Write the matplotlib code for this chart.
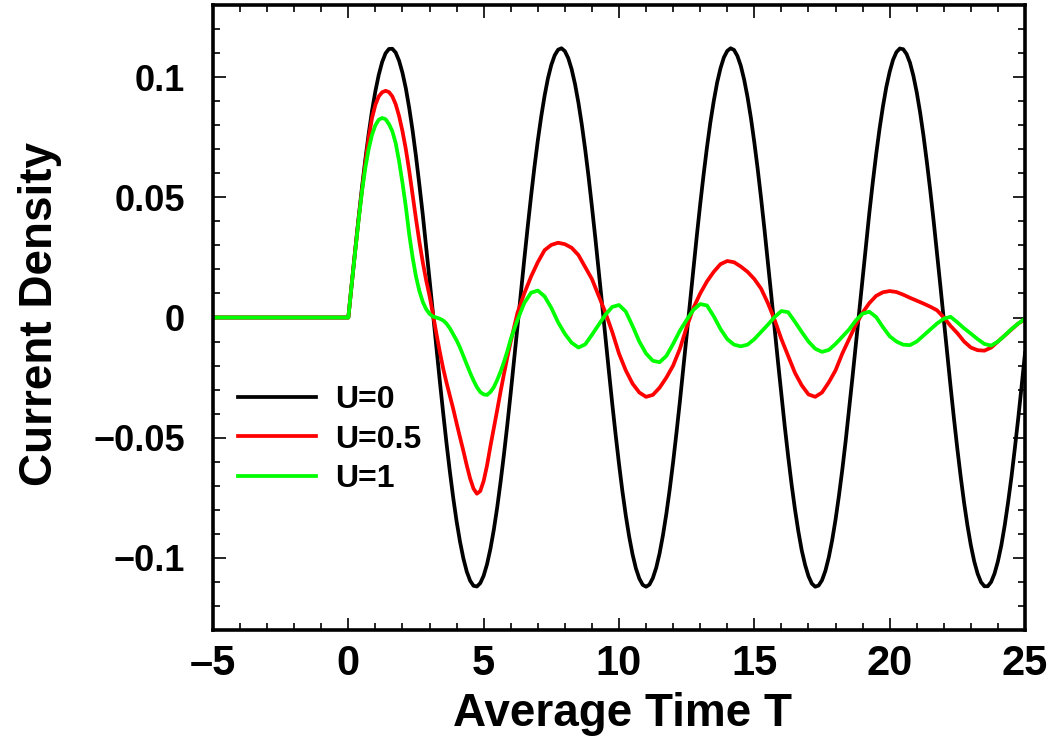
import matplotlib
matplotlib.use('Agg')
import matplotlib.pyplot as plt
from matplotlib.ticker import MultipleLocator, FuncFormatter
import numpy as np

# all curves are flat zero for T < 0
t_start = -5.0

# U=0 sampled every 0.125 from T=0 to T=25 (one row = one time unit)
t_u0 = np.arange(0, 25.001, 0.125)
current_u0 = [
    0.0000, 0.0140, 0.0277, 0.0410, 0.0537, 0.0655, 0.0763, 0.0860,
    0.0942, 0.1010, 0.1063, 0.1099, 0.1117, 0.1118, 0.1102, 0.1068,
    0.1018, 0.0953, 0.0871, 0.0777, 0.0670, 0.0552, 0.0428, 0.0295,
    0.0158, 0.0019, -0.0121, -0.0259, -0.0393, -0.0521, -0.0640, -0.0750,
    -0.0848, -0.0932, -0.1002, -0.1057, -0.1095, -0.1116, -0.1119, -0.1105,
    -0.1074, -0.1026, -0.0962, -0.0883, -0.0790, -0.0684, -0.0569, -0.0445,
    -0.0313, -0.0176, -0.0037, 0.0103, 0.0241, 0.0375, 0.0504, 0.0625,
    0.0736, 0.0835, 0.0922, 0.0995, 0.1051, 0.1091, 0.1114, 0.1120,
    0.1108, 0.1079, 0.1033, 0.0971, 0.0894, 0.0803, 0.0700, 0.0586,
    0.0461, 0.0331, 0.0195, 0.0056, -0.0084, -0.0222, -0.0358, -0.0487,
    -0.0609, -0.0722, -0.0823, -0.0911, -0.0985, -0.1044, -0.1086, -0.1112,
    -0.1120, -0.1111, -0.1084, -0.1041, -0.0981, -0.0905, -0.0816, -0.0714,
    -0.0601, -0.0478, -0.0349, -0.0213, -0.0074, 0.0065, 0.0205, 0.0340,
    0.0471, 0.0594, 0.0708, 0.0811, 0.0900, 0.0977, 0.1037, 0.1082,
    0.1109, 0.1120, 0.1113, 0.1088, 0.1047, 0.0989, 0.0916, 0.0829,
    0.0728, 0.0617, 0.0495, 0.0366, 0.0231, 0.0093, -0.0047, -0.0186,
    -0.0322, -0.0454, -0.0578, -0.0693, -0.0797, -0.0889, -0.0968, -0.1029,
    -0.1076, -0.1107, -0.1120, -0.1115, -0.1093, -0.1054, -0.0998, -0.0927,
    -0.0841, -0.0742, -0.0633, -0.0513, -0.0383, -0.0250, -0.0112, 0.0028,
    0.0167, 0.0304, 0.0436, 0.0561, 0.0678, 0.0784, 0.0877, 0.0958,
    0.1022, 0.1072, 0.1104, 0.1119, 0.1116, 0.1096, 0.1060, 0.1006,
    0.0937, 0.0853, 0.0756, 0.0646, 0.0528, 0.0401, 0.0267, 0.0130,
    -0.0010, -0.0150, -0.0287, -0.0420, -0.0546, -0.0663, -0.0771, -0.0866,
    -0.0948, -0.1015, -0.1066, -0.1101, -0.1118, -0.1118, -0.1100, -0.1065,
    -0.1014, -0.0948, -0.0865, -0.0769, -0.0663, -0.0544, -0.0419, -0.0286,
    -0.0148,
]

# U=0.5 and U=1: every 0.125 up to T=6, then every 0.25
t_damped = np.concatenate([np.arange(0, 6, 0.125), np.arange(6, 25.001, 0.25)])

current_u05 = [
    # 0 .. 5.875 (step 0.125)
    0.0000, 0.0140, 0.0275, 0.0405, 0.0525, 0.0640, 0.0745, 0.0830,
    0.0885, 0.0920, 0.0937, 0.0943, 0.0938, 0.0920, 0.0887, 0.0838,
    0.0775, 0.0700, 0.0610, 0.0510, 0.0410, 0.0315, 0.0230, 0.0155,
    0.0090, 0.0015, -0.0065, -0.0140, -0.0210, -0.0270, -0.0325, -0.0380,
    -0.0440, -0.0498, -0.0555, -0.0615, -0.0670, -0.0712, -0.0733, -0.0722,
    -0.0680, -0.0615, -0.0535, -0.0460, -0.0385, -0.0308, -0.0235, -0.0165,
    # 6 .. 25 (step 0.25)
    -0.0100, 0.0020, 0.0100, 0.0170, 0.0230, 0.0280, 0.0302, 0.0311,
    0.0305, 0.0290, 0.0260, 0.0210, 0.0160, 0.0090, 0.0020, -0.0060,
    -0.0150, -0.0220, -0.0275, -0.0312, -0.0330, -0.0322, -0.0292, -0.0250,
    -0.0200, -0.0130, -0.0040, 0.0040, 0.0100, 0.0150, 0.0190, 0.0222,
    0.0235, 0.0230, 0.0212, 0.0190, 0.0160, 0.0120, 0.0060, -0.0010,
    -0.0090, -0.0160, -0.0230, -0.0282, -0.0320, -0.0330, -0.0312, -0.0270,
    -0.0220, -0.0150, -0.0090, -0.0030, 0.0020, 0.0060, 0.0090, 0.0105,
    0.0110, 0.0106, 0.0095, 0.0082, 0.0070, 0.0058, 0.0045, 0.0030,
    0.0000, -0.0035, -0.0065, -0.0100, -0.0125, -0.0136, -0.0138, -0.0125,
    -0.0100, -0.0075, -0.0050, -0.0025, -0.0008,
]

current_u1 = [
    # 0 .. 5.875 (step 0.125)
    0.0000, 0.0138, 0.0270, 0.0400, 0.0520, 0.0620, 0.0700, 0.0760,
    0.0800, 0.0823, 0.0830, 0.0825, 0.0805, 0.0775, 0.0725, 0.0650,
    0.0560, 0.0460, 0.0345, 0.0250, 0.0170, 0.0110, 0.0065, 0.0035,
    0.0015, 0.0004, 0.0000, -0.0005, -0.0012, -0.0025, -0.0045, -0.0070,
    -0.0095, -0.0125, -0.0160, -0.0195, -0.0230, -0.0262, -0.0290, -0.0310,
    -0.0320, -0.0322, -0.0310, -0.0290, -0.0260, -0.0225, -0.0185, -0.0140,
    # 6 .. 25 (step 0.25)
    -0.0090, -0.0010, 0.0060, 0.0103, 0.0112, 0.0088, 0.0040, -0.0020,
    -0.0068, -0.0105, -0.0125, -0.0112, -0.0072, -0.0030, 0.0012, 0.0044,
    0.0052, 0.0025, -0.0035, -0.0100, -0.0150, -0.0180, -0.0186, -0.0160,
    -0.0110, -0.0055, -0.0010, 0.0032, 0.0056, 0.0050, 0.0005, -0.0048,
    -0.0090, -0.0113, -0.0120, -0.0113, -0.0090, -0.0060, -0.0030, 0.0002,
    0.0027, 0.0022, -0.0018, -0.0060, -0.0100, -0.0130, -0.0143, -0.0135,
    -0.0110, -0.0080, -0.0050, -0.0012, 0.0016, 0.0024, 0.0002, -0.0040,
    -0.0078, -0.0100, -0.0113, -0.0115, -0.0100, -0.0075, -0.0050, -0.0025,
    -0.0005, 0.0003, -0.0020, -0.0045, -0.0067, -0.0090, -0.0110, -0.0117,
    -0.0100, -0.0075, -0.0048, -0.0025, -0.0005,
]

series = [
    ("U=0", t_u0, current_u0, "black"),
    ("U=0.5", t_damped, current_u05, "#ff0000"),
    ("U=1", t_damped, current_u1, "#00ff00"),
]

plt.rcParams['font.family'] = ['Liberation Sans', 'DejaVu Sans']
plt.rcParams['font.weight'] = 'bold'
helv = {'family': 'Liberation Sans', 'weight': 'bold'}

fig = plt.figure(figsize=(10.57, 7.38), dpi=100)
ax = fig.add_axes([213 / 1057, 1 - 630 / 738, 812 / 1057, 625 / 738])

for label, t, values, color in series:
    tt = np.concatenate([[t_start], t])
    yy = np.concatenate([[0.0], values])
    ax.plot(tt, yy, color=color, lw=2.7, label=label, solid_joinstyle='round')

ax.set_xlim(-5, 25)
ax.set_ylim(-0.13, 0.13)

ax.xaxis.set_major_locator(MultipleLocator(5))
ax.xaxis.set_minor_locator(MultipleLocator(1))
ax.yaxis.set_major_locator(MultipleLocator(0.05))
ax.yaxis.set_minor_locator(MultipleLocator(0.01))
ax.yaxis.set_major_formatter(FuncFormatter(lambda v, p: ('%g' % round(v, 3)).replace('-', '\u2212')))
ax.xaxis.set_major_formatter(FuncFormatter(lambda v, p: ('%g' % v).replace('-', '\u2013')))

ax.tick_params(which='both', direction='in', top=True, right=True, width=1.2)
ax.tick_params(which='major', length=9)
ax.tick_params(which='minor', length=5)
ax.tick_params(axis='y', pad=20, labelsize=26)
ax.tick_params(axis='x', pad=10, labelsize=30)
for s in ax.spines.values():
    s.set_linewidth(2.6)

ax.set_xlabel("Average Time T", fontsize=33, **helv)
ax.xaxis.set_label_coords(0.504, -0.099)
ax.set_ylabel("Current Density", fontsize=33, **helv)
ax.yaxis.set_label_coords(-0.186, 0.505)

ax.legend(loc='upper left', bbox_to_anchor=(0.031, 0.392), frameon=False,
          prop=dict(helv, size=23), handlelength=2.45, handletextpad=0.6,
          labelspacing=0.3, borderpad=0, borderaxespad=0)

plt.savefig("out.png", dpi=100)
